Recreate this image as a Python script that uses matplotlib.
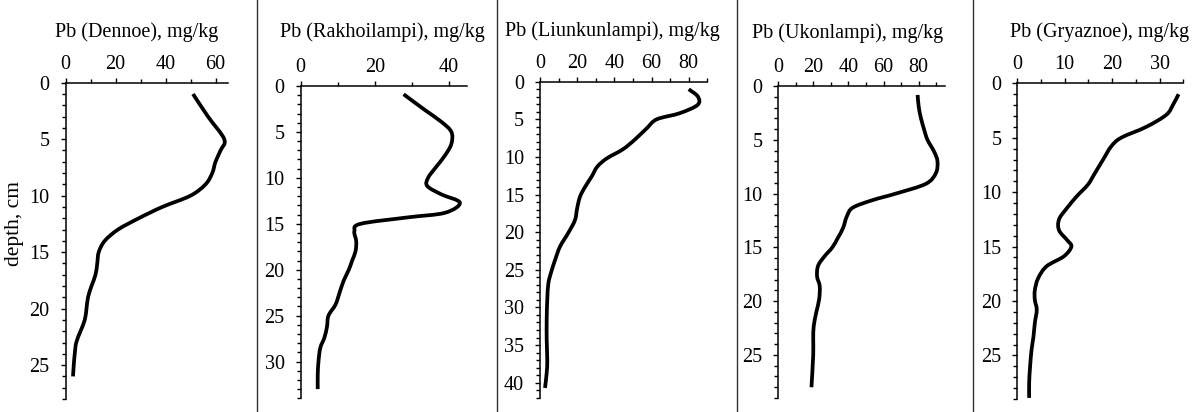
import matplotlib
matplotlib.use('Agg')
import matplotlib.pyplot as plt
from matplotlib.ticker import MultipleLocator
from matplotlib.lines import Line2D
from matplotlib.path import Path
from matplotlib.patches import PathPatch

plt.rcParams['font.family'] = ['Liberation Serif', 'DejaVu Serif']
plt.rcParams['font.size'] = 14.5

# ---------------- data ----------------
lakes = ["Dennoe", "Rakhoilampi", "Liunkunlampi", "Ukonlampi", "Gryaznoe"]

dennoe_depth = [1, 3, 5, 6, 7, 8, 9, 10, 11, 12, 13, 14, 15, 16, 17, 18, 19, 20, 21, 22, 23, 24, 25, 26]
dennoe_pb = [51, 57, 63.5, 62, 60, 58.7, 56, 50, 38.7, 29.3, 21, 15.7, 13.3, 12.7, 12, 10.4, 9, 8.4, 7.7, 6, 4.3, 3.7, 3.3, 3]

rakh_depth = [0.9, 2.6, 3.9, 5, 6.3, 7.6, 8.8, 10, 10.9, 11.8, 12.7, 13.8, 14.3, 15, 15.8, 16.9, 18, 19, 20,
              21.2, 22.5, 23.8, 25, 26.2, 27.4, 28.5, 30, 31.5, 33]
rakh_pb = [27.8, 33.5, 38, 40.7, 40.7, 38.9, 36.6, 34.4, 34.2, 38, 43, 39, 29, 16.2, 14.5, 15, 14.8, 13.9, 13,
           11.6, 10.5, 9.4, 7.5, 7.1, 6.4, 5.3, 4.8, 4.6, 4.6]

liun_depth = [1, 2, 3.1, 4.2, 5, 6.2, 7.7, 9, 10.2, 11.3, 12.6, 14, 15.3, 16.8, 18.4, 20.1, 21.9, 23.7, 25.4,
              26.8, 29, 31.6, 34.3, 37, 38.7, 40.7]
liun_pb = [80, 85, 84.7, 75, 62.8, 57.4, 51, 44.5, 35.9, 30.8, 27.8, 24.2, 21.5, 20, 18.8, 15.2, 10.8, 8.1, 5.9,
           4.5, 3.9, 3.6, 3.6, 3.9, 3.6, 2.7]

ukon_depth = [0.83, 1.9, 3, 4.1, 5, 6.1, 7, 8.1, 9.1, 10, 10.6, 11.3, 12.1, 13.2, 14.1, 15, 15.8, 16.7, 17.7,
              18.6, 19.8, 21, 22.3, 23.5, 25, 28]
ukon_pb = [79.4, 80, 81.3, 83.2, 85, 88.8, 90.7, 89.8, 84, 67, 53.9, 42.5, 39.1, 36.9, 34, 30.8, 26.5, 22.7, 22.1,
           23.6, 23.3, 21.7, 20.2, 19.9, 19.9, 18.9]

grya_depth = [1, 2, 2.9, 4, 5, 5.8, 7, 8.3, 9.3, 10.4, 11.5, 12.5, 13.5, 14.4, 15, 15.9, 16.8, 17.9, 19, 19.9,
              20.8, 22, 23.3, 24.5, 26, 27.5, 28.9]
grya_pb = [34, 32.8, 31.4, 27.2, 21.9, 19.8, 18.1, 16.3, 14.9, 12.5, 10.4, 8.8, 8.8, 10.5, 11.4, 9.8, 6.2, 4.4,
           3.7, 3.7, 4.1, 3.7, 3.4, 3, 2.7, 2.5, 2.5]

depths = [dennoe_depth, rakh_depth, liun_depth, ukon_depth, grya_depth]
values = [dennoe_pb, rakh_pb, liun_pb, ukon_pb, grya_pb]

# ---------------- layout / style ----------------
W, H = 1202, 412
fig = plt.figure(figsize=(W / 100, H / 100), dpi=100)

def rect(l, r, t, b):
    return [l / W, 1 - b / H, (r - l) / W, (b - t) / H]


def smooth_path(xs, ys, tension=1 / 6.0):
    """Bezier path through the data points (Catmull-Rom style smoothed line)."""
    pts = list(zip(xs, ys))
    n = len(pts)
    verts = [pts[0]]
    codes = [Path.MOVETO]
    for i in range(n - 1):
        p0 = pts[i - 1] if i > 0 else pts[i]
        p1 = pts[i]
        p2 = pts[i + 1]
        p3 = pts[i + 2] if i + 2 < n else pts[i + 1]
        c1 = (p1[0] + (p2[0] - p0[0]) * tension, p1[1] + (p2[1] - p0[1]) * tension)
        c2 = (p2[0] - (p3[0] - p1[0]) * tension, p2[1] - (p3[1] - p1[1]) * tension)
        verts += [c1, c2, p2]
        codes += [Path.CURVE4] * 3
    return Path(verts, codes)

# (left, right, top, bottom) px ; xlim ; ylim ; x major ; x minor ; title x,y
layout = [
    ((65.5, 228, 82.7, 399), 65, 28, 20, 10, (137, 32)),
    ((300.7, 467.3, 86, 398.3), 45, 34, 20, 10, (382, 32)),
    ((540, 707.3, 81.7, 397.7), 90, 42, 20, 10, (612, 31)),
    ((778.3, 945, 86, 398), 95, 29, 20, 10, (848, 33)),
    ((1017.3, 1183.3, 83.3, 399), 35, 29, 10, 5, (1100, 32)),
]

for name, d, v, (box, xmax, ymax, xmaj, xmin, (tx, ty)) in zip(lakes, depths, values, layout):
    ax = fig.add_axes(rect(*box))
    patch = PathPatch(smooth_path(v, d), facecolor='none', edgecolor='black', lw=2.7,
                      joinstyle='round', capstyle='butt')
    ax.add_patch(patch)
    ax.set_xlim(0, xmax)
    ax.set_ylim(ymax, 0)
    ax.xaxis.tick_top()
    ax.xaxis.set_major_locator(MultipleLocator(xmaj))
    ax.xaxis.set_minor_locator(MultipleLocator(xmin))
    ax.yaxis.set_major_locator(MultipleLocator(5))
    ax.yaxis.set_minor_locator(MultipleLocator(1))
    for s in ['right', 'bottom']:
        ax.spines[s].set_visible(False)
    for s in ['top', 'left']:
        ax.spines[s].set_linewidth(1.1)
    ax.tick_params(axis='both', which='both', direction='out', width=1.0, colors='black',
                   labelsize=14.5)
    ax.tick_params(axis='both', which='major', length=3.5)
    ax.tick_params(axis='both', which='minor', length=3.2)
    ax.tick_params(axis='x', which='major', pad=3)
    ax.tick_params(axis='y', which='major', pad=8)
    ax.set_facecolor('none')
    fig.text(tx / W, 1 - ty / H, f"Pb ({name}), mg/kg", ha='center', va='center')

fig.text(15 / W, 1 - 223 / H, "depth, cm", rotation=90, ha='center', va='center', fontsize=15.5)

for x in [257, 497, 736.5, 972.7]:
    fig.add_artist(Line2D([x / W, x / W], [0, 1], color='#333333', lw=1.0))

fig.savefig('out.png', dpi=100)
